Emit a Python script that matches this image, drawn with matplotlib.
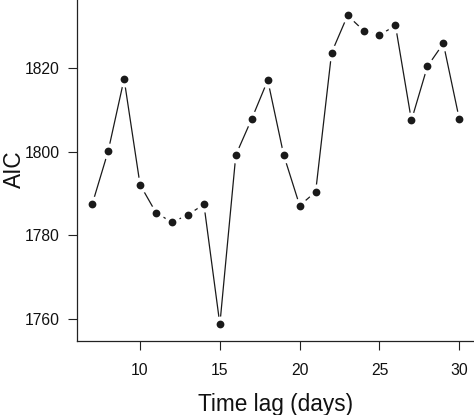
import matplotlib
matplotlib.use("Agg")
import matplotlib.pyplot as plt

lags = [7, 8, 9, 10, 11, 12, 13, 14, 15, 16, 17, 18, 19, 20, 21, 22, 23, 24, 25, 26, 27, 28, 29, 30]
aic = [1787.4, 1800.1, 1817.4, 1792.1, 1785.4, 1783.1, 1784.9, 1787.4, 1758.7, 1799.2,
       1807.9, 1817.1, 1799.2, 1787.1, 1790.4, 1823.7, 1832.6, 1829.0, 1827.9, 1830.2,
       1807.5, 1820.4, 1825.9, 1807.8]
xticks = [10, 15, 20, 25, 30]
yticks = [1760, 1780, 1800, 1820]

plt.rcParams['font.family'] = ['Liberation Sans', 'DejaVu Sans']

W, H = 474, 415
fig = plt.figure(figsize=(W / 100, H / 100), dpi=100)
ax = fig.add_axes([77 / W, (H - 341) / H, (W - 77) / W, 341 / H])

ax.plot(lags, aic, color='#1a1a1a', lw=0.9, zorder=1)
ax.plot(lags, aic, 'o', color='white', ms=11.5, mec='none', zorder=2)
ax.plot(lags, aic, 'o', color='#1a1a1a', ms=5.6, mec='none', zorder=3)

ax.set_xlim(6.05, 30.92)
ax.set_ylim(1754.7, 1836.3)
ax.set_xticks(xticks)
ax.set_yticks(yticks)
ax.tick_params(axis='both', length=6.5, width=0.8, color='#222222', labelsize=11.3, labelcolor='#111111')
ax.tick_params(axis='x', pad=9)
ax.tick_params(axis='y', pad=6)

for s in ['top', 'right']:
    ax.spines[s].set_visible(False)
for s in ['left', 'bottom']:
    ax.spines[s].set_linewidth(0.9)
    ax.spines[s].set_color('#222222')

ax.set_xlabel('Time lag (days)', fontsize=16.3, labelpad=11, color='#111111')
ax.set_ylabel('AIC', fontsize=16.3, color='#111111', va='center', ha='center')
ax.yaxis.set_label_coords((14 - 77) / (W - 77), 0.505)

fig.savefig('out.png', dpi=100)
